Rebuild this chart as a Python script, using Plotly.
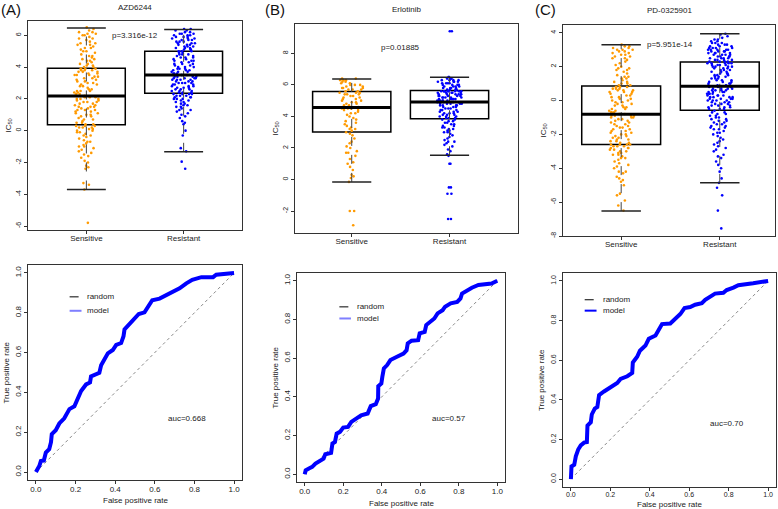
import plotly.graph_objects as go

W, H = 778, 509
FONT = "Liberation Sans, Arial, sans-serif"

# ---------------- data ----------------
GROUPS = ["Sensitive", "Resistant"]
DRUGS = ["AZD6244", "Erlotinib", "PD-0325901"]
PVALUES = ["p=3.316e-12", "p=0.01885", "p=5.951e-14"]
AUC_TEXT = ["auc=0.668", "auc=0.57", "auc=0.70"]

A_SENS = [-5.8, -3.7, -3.4, -3.3, -2.4, -2.3, -2.2, -2.0, -1.9, -1.7, -1.6, -1.5, -1.4, -1.3, -1.2,
          -1.1, -1.0, -1.0, -0.9, -0.8, -0.7, -0.7, -0.6, -0.5, -0.4, -0.3, -0.3, -0.2, -0.1, -0.1,
          0.0, 0.0, 0.1, 0.1, 0.2, 0.2, 0.2, 0.3, 0.3, 0.3,
          0.4, 0.4, 0.5, 0.5, 0.6, 0.7, 0.7, 0.8, 0.9, 0.9, 1.0, 1.0, 1.1, 1.1, 1.2, 1.2, 1.3, 1.3, 1.3, 1.4,
          1.4, 1.5, 1.5, 1.5, 1.6, 1.6, 1.7, 1.7, 1.8, 1.8, 1.8, 1.9, 1.9, 2.0, 2.0, 2.0, 2.1, 2.1, 2.1, 2.2,
          2.2, 2.3, 2.3, 2.4, 2.4, 2.5, 2.5, 2.5, 2.6, 2.6, 2.7, 2.8, 2.8, 2.9, 2.9, 3.0, 3.0, 3.1, 3.1, 3.2,
          3.2, 3.3, 3.3, 3.4, 3.4, 3.5, 3.5, 3.5, 3.6, 3.6, 3.7, 3.7, 3.7, 3.8, 3.8, 3.8, 3.9, 3.9, 3.9, 3.9,
          4.0, 4.0, 4.1, 4.1, 4.2, 4.2, 4.3, 4.4, 4.4, 4.5, 4.5, 4.6, 4.7, 4.7, 4.8, 4.9, 5.0, 5.0, 5.1, 5.2,
          5.2, 5.3, 5.4, 5.4, 5.5, 5.5, 5.6, 5.7, 5.8, 5.8, 5.9, 6.0, 6.0, 6.1, 6.1, 6.2, 6.2, 6.3, 6.4, 6.5]
A_RES = [-2.4, -1.95, -1.3, -1.1, -0.3, 0.0, 0.4, 0.5, 0.6, 0.8, 0.9, 1.0, 1.1, 1.2, 1.3, 1.3, 1.4, 1.5, 1.5, 1.6,
         1.6, 1.7, 1.7, 1.8, 1.8, 1.9, 1.9, 2.0, 2.0, 2.0, 2.1, 2.1, 2.1, 2.2, 2.2, 2.2, 2.3, 2.3, 2.3, 2.3,
         2.4, 2.4, 2.4, 2.5, 2.5, 2.5, 2.6, 2.6, 2.6, 2.7, 2.7, 2.7, 2.8, 2.8, 2.8, 2.9, 2.9, 2.9, 3.0, 3.0,
         3.0, 3.0, 3.1, 3.1, 3.1, 3.2, 3.2, 3.2, 3.2, 3.3, 3.3, 3.3, 3.3, 3.4, 3.4, 3.4, 3.4, 3.5, 3.5, 3.5,
         3.5, 3.6, 3.6, 3.6, 3.7, 3.7, 3.7, 3.8, 3.8, 3.8, 3.9, 3.9, 3.9, 4.0, 4.0, 4.0, 4.1, 4.1, 4.2, 4.2,
         4.2, 4.3, 4.3, 4.4, 4.4, 4.4, 4.5, 4.5, 4.6, 4.6, 4.6, 4.7, 4.7, 4.8, 4.8, 4.8, 4.9, 4.9, 5.0, 5.0,
         5.0, 5.1, 5.1, 5.1, 5.2, 5.2, 5.2, 5.3, 5.3, 5.3, 5.4, 5.4, 5.4, 5.5, 5.5, 5.5, 5.6, 5.6, 5.6, 5.7,
         5.7, 5.7, 5.8, 5.8, 5.8, 5.9, 5.9, 5.9, 6.0, 6.0, 6.0, 6.1, 6.1, 6.1, 6.2, 6.2, 6.3, 6.3, 6.4, 6.4]
B_SENS = [-2.9, -2.0, -2.0, -0.15, 0.1, 0.2, 0.3, 0.6, 0.8, 1.0, 1.1, 1.3, 1.5, 1.7, 1.7, 1.8, 2.0, 2.1, 2.3, 2.4,
          2.6, 2.8, 2.9,
          3.0, 3.1, 3.2, 3.2, 3.3, 3.4, 3.5, 3.6, 3.7, 3.8, 3.9, 4.0, 4.1, 4.2, 4.2, 4.3, 4.4, 4.4, 4.5, 4.5,
          4.5, 4.6,
          4.6, 4.7, 4.7, 4.8, 4.8, 4.9, 4.9, 5.0, 5.0, 5.1, 5.1, 5.2, 5.2, 5.3, 5.3, 5.4, 5.4, 5.4, 5.5, 5.5,
          5.5, 5.6,
          5.6, 5.7, 5.7, 5.7, 5.8, 5.8, 5.8, 5.9, 5.9, 6.0, 6.0, 6.0, 6.1, 6.1, 6.2, 6.2, 6.3, 6.3, 6.3, 6.4, 6.4]
B_RES = [-2.5, -2.5, -0.9, -0.9, -0.5, -0.5, 1.0, 1.0, 1.5, 1.6, 1.8, 1.9, 2.1, 2.2, 2.3, 2.4, 2.4, 2.5, 2.6, 2.7,
         2.8, 2.9, 3.0, 3.0, 3.1, 3.1, 3.2, 3.2, 3.3, 3.3, 3.4, 3.4, 3.5, 3.5, 3.6, 3.6, 3.7, 3.7, 3.8, 3.8,
         3.9, 3.9, 3.9, 4.0, 4.0, 4.0, 4.1, 4.1, 4.1, 4.2, 4.2, 4.2, 4.3, 4.3, 4.3, 4.4, 4.4, 4.4, 4.5, 4.5,
         4.5, 4.6, 4.6, 4.6, 4.7, 4.7, 4.7, 4.7, 4.8, 4.8, 4.8, 4.8, 4.8, 4.9, 4.9, 4.9, 4.9, 4.9, 4.9, 4.9,
         5.0, 5.0, 5.0, 5.0, 5.0, 5.0, 5.1, 5.1, 5.1, 5.1, 5.1, 5.2, 5.2, 5.2, 5.2, 5.2, 5.3, 5.3, 5.3, 5.3,
         5.3, 5.4, 5.4, 5.4, 5.4, 5.4, 5.5, 5.5, 5.5, 5.5, 5.5, 5.6, 5.6, 5.6, 5.6, 5.6, 5.6, 5.6, 5.6, 5.6,
         5.7, 5.7, 5.7, 5.7, 5.8, 5.8, 5.8, 5.8, 5.9, 5.9, 5.9, 5.9, 6.0, 6.0, 6.0, 6.0, 6.1, 6.1, 6.1, 6.1,
         6.2, 6.2, 6.2, 6.2, 6.3, 6.3, 6.3, 6.3, 6.4, 6.4, 6.4, 6.5, 6.5, 9.4, 9.4]
C_SENS = [-6.5, -6.2, -5.9, -5.6, -5.5, -5.0, -4.8, -4.7, -4.6, -4.5, -4.3, -4.2, -4.2, -4.0, -3.9, -3.8, -3.7,
          -3.6, -3.5, -3.4, -3.4, -3.3, -3.2, -3.2, -3.1, -3.1, -3.0, -3.0, -2.9, -2.9, -2.8, -2.8, -2.8, -2.7,
          -2.7, -2.7, -2.6, -2.6, -2.6, -2.6,
          -2.5, -2.5, -2.4, -2.4, -2.3, -2.3, -2.2, -2.2, -2.1, -2.1, -2.0, -2.0, -1.9, -1.9, -1.8, -1.8, -1.7,
          -1.7, -1.6, -1.6, -1.5, -1.5, -1.4, -1.4, -1.3, -1.3, -1.2, -1.2, -1.1, -1.1, -1.0, -1.0, -1.0, -0.9,
          -0.9, -0.9, -0.9, -0.8, -0.8, -0.8,
          -0.8, -0.7, -0.7, -0.7, -0.6, -0.6, -0.5, -0.5, -0.4, -0.4, -0.3, -0.3, -0.2, -0.2, -0.1, -0.1, 0.0,
          0.0, 0.1, 0.1, 0.2, 0.2, 0.3, 0.3, 0.4, 0.4, 0.5, 0.5, 0.5, 0.6, 0.6, 0.6, 0.7, 0.7, 0.7, 0.8, 0.8,
          0.8, 0.8, 0.9,
          0.9, 1.0, 1.0, 1.1, 1.1, 1.2, 1.3, 1.3, 1.4, 1.4, 1.5, 1.6, 1.7, 1.8, 1.8, 1.9, 1.9, 2.0, 2.1, 2.2,
          2.3, 2.4, 2.5, 2.5, 2.6, 2.6, 2.7, 2.7, 2.8, 2.8, 2.9, 2.9, 3.0, 3.0, 3.0, 3.1, 3.1, 3.2, 3.2, 3.3]
C_RES = [-7.55, -6.5, -5.6, -5.15, -4.86, -4.6, -4.2, -4.0, -3.8, -3.6, -3.4, -3.3, -3.2, -3.0, -2.9, -2.8, -2.7,
         -2.6, -2.5, -2.4, -2.3, -2.2, -2.1, -2.0, -1.9, -1.9, -1.8, -1.7, -1.7, -1.6, -1.6, -1.5, -1.5, -1.4,
         -1.4, -1.3, -1.3, -1.2, -1.2, -1.1, -1.1, -1.0, -1.0, -0.9, -0.9, -0.8, -0.8, -0.7, -0.7, -0.6,
         -0.5, -0.5, -0.5, -0.4, -0.4, -0.4, -0.3, -0.3, -0.3, -0.2, -0.2, -0.2, -0.1, -0.1, -0.1, 0.0, 0.0,
         0.0, 0.0, 0.1, 0.1, 0.1, 0.1, 0.2, 0.2, 0.2, 0.2, 0.3, 0.3, 0.3, 0.3, 0.4, 0.4, 0.4, 0.4, 0.5, 0.5,
         0.5, 0.5, 0.6, 0.6, 0.6, 0.6, 0.7, 0.7, 0.7, 0.7, 0.8, 0.8, 0.8,
         0.9, 0.9, 0.9, 1.0, 1.0, 1.0, 1.1, 1.1, 1.1, 1.2, 1.2, 1.2, 1.3, 1.3, 1.3, 1.4, 1.4, 1.4, 1.5, 1.5,
         1.5, 1.6, 1.6, 1.6, 1.7, 1.7, 1.7, 1.8, 1.8, 1.8, 1.9, 1.9, 1.9, 2.0, 2.0, 2.0, 2.0, 2.1, 2.1, 2.1,
         2.1, 2.2, 2.2, 2.2, 2.2, 2.2, 2.3, 2.3, 2.3, 2.3,
         2.4, 2.4, 2.4, 2.4, 2.5, 2.5, 2.5, 2.5, 2.6, 2.6, 2.6, 2.6, 2.7, 2.7, 2.7, 2.7, 2.8, 2.8, 2.8, 2.8,
         2.9, 2.9, 2.9, 2.9, 3.0, 3.0, 3.0, 3.0, 3.0, 3.1, 3.1, 3.1, 3.1, 3.2, 3.2, 3.2, 3.3, 3.3, 3.3, 3.4,
         3.4, 3.4, 3.5, 3.5, 3.6, 3.6, 3.7, 3.8, 3.9, 3.94]

# box statistics: [Sensitive, Resistant]
A_STATS = dict(lo=[-3.7, -1.33], q1=[0.38, 2.35], med=[2.18, 3.5], q3=[3.93, 4.99], hi=[6.46, 6.36])
B_STATS = dict(lo=[-0.15, 1.54], q1=[3.01, 3.85], med=[4.57, 4.91], q3=[5.58, 5.64], hi=[6.38, 6.49])
C_STATS = dict(lo=[-6.53, -4.86], q1=[-2.6, -0.58], med=[-0.81, 0.84], q3=[0.86, 2.27], hi=[3.29, 3.94])

A_YTICKS = [-6, -4, -2, 0, 2, 4, 6]
B_YTICKS = [-2, 0, 2, 4, 6, 8]
C_YTICKS = [-8, -6, -4, -2, 0, 2, 4]
ROC_TICKS = [0.0, 0.2, 0.4, 0.6, 0.8, 1.0]

ROC_A_FPR = [0, 0.017, 0.025, 0.04, 0.05, 0.067, 0.076, 0.08, 0.10, 0.118, 0.143, 0.152, 0.169, 0.194, 0.21,
             0.228, 0.253, 0.273, 0.278, 0.32, 0.329, 0.346, 0.363, 0.388, 0.405, 0.43, 0.442, 0.447, 0.472,
             0.497, 0.519, 0.548, 0.565, 0.587, 0.624, 0.658, 0.691, 0.725, 0.759, 0.789, 0.835, 0.894, 0.91,
             0.961, 1.0]
ROC_A_TPR = [0, 0.03, 0.055, 0.058, 0.098, 0.115, 0.15, 0.19, 0.21, 0.244, 0.27, 0.287, 0.316, 0.33, 0.373,
             0.407, 0.44, 0.45, 0.48, 0.498, 0.536, 0.562, 0.596, 0.613, 0.639, 0.648, 0.682, 0.716, 0.742,
             0.768, 0.794, 0.802, 0.828, 0.863, 0.871, 0.888, 0.905, 0.923, 0.948, 0.966, 0.979, 0.979, 0.991,
             0.997, 1.0]
ROC_B_FPR = [0, 0.005, 0.022, 0.039, 0.056, 0.081, 0.098, 0.107, 0.137, 0.144, 0.157, 0.166, 0.183, 0.2, 0.225,
             0.242, 0.267, 0.293, 0.327, 0.343, 0.369, 0.381, 0.382, 0.398, 0.403, 0.411, 0.428, 0.445, 0.479,
             0.513, 0.529, 0.535, 0.555, 0.589, 0.597, 0.623, 0.631, 0.656, 0.673, 0.69, 0.716, 0.729, 0.758,
             0.792, 0.809, 0.817, 0.843, 0.868, 0.902, 0.97, 1.0]
ROC_B_TPR = [0, 0.02, 0.03, 0.038, 0.055, 0.072, 0.081, 0.103, 0.11, 0.159, 0.167, 0.21, 0.219, 0.241, 0.245,
             0.271, 0.288, 0.305, 0.314, 0.352, 0.362, 0.391, 0.455, 0.469, 0.503, 0.547, 0.564, 0.59, 0.607,
             0.624, 0.641, 0.676, 0.69, 0.693, 0.728, 0.736, 0.771, 0.788, 0.805, 0.831, 0.848, 0.866, 0.883,
             0.891, 0.909, 0.934, 0.952, 0.964, 0.978, 0.986, 1.0]
ROC_C_FPR = [0, 0.003, 0.017, 0.025, 0.037, 0.05, 0.067, 0.081, 0.084, 0.101, 0.106, 0.121, 0.134, 0.143, 0.168,
             0.202, 0.235, 0.252, 0.286, 0.311, 0.314, 0.336, 0.35, 0.378, 0.395, 0.429, 0.445, 0.462, 0.504,
             0.529, 0.555, 0.576, 0.605, 0.63, 0.664, 0.681, 0.706, 0.731, 0.773, 0.79, 0.824, 0.849, 0.924, 1.0]
ROC_C_TPR = [0, 0.064, 0.072, 0.115, 0.149, 0.17, 0.184, 0.187, 0.27, 0.287, 0.326, 0.356, 0.364, 0.424, 0.442,
             0.467, 0.485, 0.505, 0.519, 0.536, 0.588, 0.617, 0.648, 0.674, 0.708, 0.725, 0.751, 0.782, 0.785,
             0.811, 0.833, 0.863, 0.868, 0.88, 0.888, 0.905, 0.923, 0.936, 0.94, 0.954, 0.966, 0.978, 0.988, 1.0]

# ---------------- layout geometry (pixels) ----------------
BOX_FRAMES = [(28, 242, 21, 230), (295, 518, 24, 233), (563, 775, 25, 236)]
ROC_FRAMES = [(28, 242, 265, 480), (297, 505, 273, 482), (563, 776, 273, 487)]
BOX_XRANGES = [[0.4, 2.6], [0.42, 2.7], [0.41, 2.56]]
BOX_YRANGES = [[-6.25, 6.9], [-3.39, 9.86], [-8.0, 4.46]]
XTITLE_GAP = [20, 21, 17]
ORANGE = "#FF9A00"
BLUE = "#0000FF"


def xdom(f):
    return [f[0] / W, f[1] / W]


def ydom(f):
    return [1 - f[3] / H, 1 - f[2] / H]


fig = go.Figure()
layout = dict(width=W, height=H, margin=dict(l=0, r=0, t=0, b=0, autoexpand=False), paper_bgcolor="white",
              plot_bgcolor="white", showlegend=False, boxmode="overlay",
              font=dict(family=FONT, size=8, color="#222"))
annotations = []
shapes = []

box_data = [(A_SENS, A_RES, A_STATS), (B_SENS, B_RES, B_STATS), (C_SENS, C_RES, C_STATS)]
box_ticks = [A_YTICKS, B_YTICKS, C_YTICKS]
positions = [1, 2]
colors = [ORANGE, BLUE]

for i in range(3):
    ax = "" if i == 0 else str(i + 1)
    xa, ya = "x" + ax, "y" + ax
    sens, res, st = box_data[i]
    for g in range(2):
        p = positions[g]
        # whisker (dashed) through the whole range
        fig.add_trace(go.Scatter(x=[p, p], y=[st["lo"][g], st["hi"][g]], mode="lines",
                                 line=dict(color="#444", width=1, dash="dash"), xaxis=xa, yaxis=ya,
                                 hoverinfo="skip"))
        # box
        fig.add_trace(go.Box(x=[p], q1=[st["q1"][g]], median=[st["med"][g]], q3=[st["q3"][g]],
                             lowerfence=[st["q1"][g]], upperfence=[st["q3"][g]], width=0.8,
                             whiskerwidth=0, fillcolor="rgba(0,0,0,0)",
                             line=dict(color="black", width=1.5), xaxis=xa, yaxis=ya))
        # staples
        for key in ("lo", "hi"):
            fig.add_trace(go.Scatter(x=[p - 0.2, p + 0.2], y=[st[key][g], st[key][g]], mode="lines",
                                     line=dict(color="#222", width=1.5), xaxis=xa, yaxis=ya,
                                     hoverinfo="skip"))
        # median
        fig.add_trace(go.Scatter(x=[p - 0.4, p + 0.4], y=[st["med"][g], st["med"][g]], mode="lines",
                                 line=dict(color="black", width=3), xaxis=xa, yaxis=ya, hoverinfo="skip"))
        # jittered points
        vals = sens if g == 0 else res
        fig.add_trace(go.Box(x=[p] * len(vals), y=vals, boxpoints="all", jitter=0.33, pointpos=0,
                             width=0.8, fillcolor="rgba(0,0,0,0)",
                             line=dict(color="rgba(0,0,0,0)", width=0), whiskerwidth=0,
                             marker=dict(color=colors[g], size=2.6), xaxis=xa, yaxis=ya))
    f = BOX_FRAMES[i]
    layout["xaxis" + ax] = dict(domain=xdom(f), range=BOX_XRANGES[i], tickvals=positions, ticktext=GROUPS,
                                showline=True, mirror=True, linecolor="#333", linewidth=1,
                                ticks="outside", ticklen=3, tickcolor="#333", showgrid=False,
                                zeroline=False, anchor=ya, tickfont=dict(size=8), automargin=False,
                                ticklabelstandoff=-3)
    layout["yaxis" + ax] = dict(domain=ydom(f), range=BOX_YRANGES[i], tickvals=box_ticks[i],
                                ticktext=[str(v) for v in box_ticks[i]], tickangle=-90,
                                showline=True, mirror=True, linecolor="#333", linewidth=1,
                                ticks="outside", ticklen=3, tickcolor="#333", showgrid=False,
                                zeroline=False, anchor=xa, tickfont=dict(size=7), automargin=False)
    # title, y title
    annotations.append(dict(text=DRUGS[i], xref="paper", yref="paper",
                            x=(f[0] + f[1]) / 2 / W, y=1 - (f[2] - 14) / H, showarrow=False,
                            font=dict(size=8), xanchor="center", yanchor="middle"))
    annotations.append(dict(text="IC<sub>50</sub>", xref="paper", yref="paper", x=(f[0] - 20) / W,
                            y=1 - (f[2] + f[3]) / 2 / H, textangle=-90, showarrow=False,
                            font=dict(size=8), xanchor="center", yanchor="middle"))

# p-value positions (data coords)
P_POS = [(1.5, 6.0), (1.5, 8.4), (1.5, 3.3)]
for i in range(3):
    ax = "" if i == 0 else str(i + 1)
    annotations.append(dict(text=PVALUES[i], xref="x" + ax, yref="y" + ax, x=P_POS[i][0], y=P_POS[i][1],
                            showarrow=False, font=dict(size=8), xanchor="center", yanchor="middle"))

PANEL_LABELS = ["(A)", "(B)", "(C)"]
PANEL_X = [11, 275, 545]
for i in range(3):
    annotations.append(dict(text=PANEL_LABELS[i], xref="paper", yref="paper", x=PANEL_X[i] / W,
                            y=1 - 9 / H, showarrow=False, font=dict(size=15, color="#111"),
                            xanchor="center", yanchor="middle"))

roc = [(ROC_A_FPR, ROC_A_TPR), (ROC_B_FPR, ROC_B_TPR), (ROC_C_FPR, ROC_C_TPR)]
AUC_POS = [(0.76, 0.27), (0.75, 0.29), (0.79, 0.28)]
LEG_X = [(0.17, 0.23, 0.25), (0.18, 0.24, 0.26), (0.07, 0.13, 0.155)]
LEG_Y = [(0.88, 0.81), (0.865, 0.805), (0.905, 0.85)]
MODEL_LEG_COLORS = ["#7f7fff", "#7f7fff", BLUE]
ROC_TICKFONT = [8, 8, 7]

for i in range(3):
    n = str(i + 4)
    xa, ya = "x" + n, "y" + n
    fig.add_trace(go.Scatter(x=[0, 1], y=[0, 1], mode="lines", line=dict(color="#888", width=1, dash="dot"),
                             xaxis=xa, yaxis=ya, hoverinfo="skip"))
    fig.add_trace(go.Scatter(x=roc[i][0], y=roc[i][1], mode="lines", line=dict(color=BLUE, width=4),
                             xaxis=xa, yaxis=ya))
    f = ROC_FRAMES[i]
    common = dict(range=[-0.04, 1.04], tickvals=ROC_TICKS, ticktext=["%.1f" % v for v in ROC_TICKS],
                  showline=True, mirror=True, linecolor="#333", linewidth=1, ticks="outside", ticklen=3,
                  tickcolor="#333", showgrid=False, zeroline=False, automargin=False,
                  tickfont=dict(size=ROC_TICKFONT[i]))
    layout["xaxis" + n] = dict(domain=xdom(f), anchor=ya, ticklabelstandoff=-2, **common)
    layout["yaxis" + n] = dict(domain=ydom(f), anchor=xa, tickangle=-90, **common)
    annotations.append(dict(text="False positive rate", xref="paper", yref="paper",
                            x=(f[0] + f[1]) / 2 / W, y=1 - (f[3] + XTITLE_GAP[i]) / H, showarrow=False,
                            font=dict(size=8), xanchor="center", yanchor="middle"))
    annotations.append(dict(text="True positive rate", xref="paper", yref="paper", x=(f[0] - 22) / W,
                            y=1 - (f[2] + f[3]) / 2 / H, textangle=-90, showarrow=False,
                            font=dict(size=8), xanchor="center", yanchor="middle"))
    annotations.append(dict(text=AUC_TEXT[i], xref=xa, yref=ya, x=AUC_POS[i][0], y=AUC_POS[i][1],
                            showarrow=False, font=dict(size=8), xanchor="center", yanchor="middle"))
    # manual legend
    lx0, lx1, tx = LEG_X[i]
    ly_r, ly_m = LEG_Y[i]
    shapes.append(dict(type="line", xref=xa, yref=ya, x0=lx0, x1=lx1, y0=ly_r, y1=ly_r,
                       line=dict(color="black", width=1, dash="dash")))
    shapes.append(dict(type="line", xref=xa, yref=ya, x0=lx0, x1=lx1, y0=ly_m, y1=ly_m,
                       line=dict(color=MODEL_LEG_COLORS[i], width=2)))
    annotations.append(dict(text="random", xref=xa, yref=ya, x=tx, y=ly_r, showarrow=False,
                            font=dict(size=8), xanchor="left", yanchor="middle"))
    annotations.append(dict(text="model", xref=xa, yref=ya, x=tx, y=ly_m, showarrow=False,
                            font=dict(size=8), xanchor="left", yanchor="middle"))

layout["annotations"] = annotations
layout["shapes"] = shapes
fig.update_layout(**layout)
fig.write_html("out.html", config={"displayModeBar": False},
               post_script="document.body.style.margin='0';document.body.style.padding='0';"
                           "document.body.style.overflow='hidden';")
